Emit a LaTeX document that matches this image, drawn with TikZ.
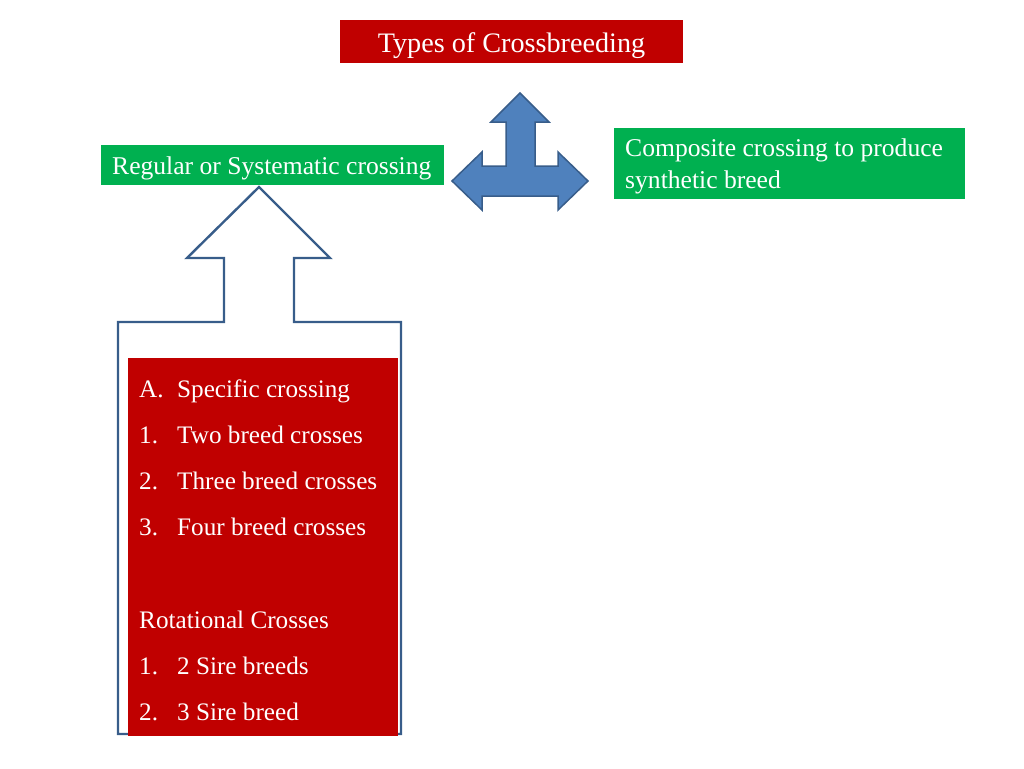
\documentclass[tikz,border=0pt]{standalone}
\usepackage{fontspec}
\setmainfont{Liberation Serif}
\usepackage{tikz}

\begin{document}
\begin{tikzpicture}
		[x=1pt,y=-1pt,line join=miter,
		%Styles
		box/.style={rectangle,inner sep=0pt,draw=none},
		title box/.style={box,fill=titlered},
		green box/.style={box,fill=boxgreen},
		panel/.style={box,fill=titlered},
		white text/.style={anchor=base west,inner sep=0pt,text=white,font=\fontsize{25.6}{30}\selectfont},
		list text/.style={white text,font=\fontsize{25.2}{30}\selectfont},
		block arrow/.style={fill=arrowblue,draw=arrowdark,line width=1.5pt},
		outline arrow/.style={draw=arrowdark,line width=2.4pt,fill=none}
		]
		
		%Colors
		\definecolor{titlered}{RGB}{192,0,0}
		\definecolor{boxgreen}{RGB}{0,176,80}
		\definecolor{arrowblue}{RGB}{79,129,189}
		\definecolor{arrowdark}{RGB}{56,93,138}
		
		\useasboundingbox (0,0) rectangle (1024,768);
		
		%The graphic
		\node[title box,minimum width=343pt,minimum height=43pt] (types) at (511.5,41.5) {};
		\node[white text,font=\fontsize{28.2}{32}\selectfont,anchor=base] (typestext) at (types.center |- 0,52.7) {Types of Crossbreeding};
		
		\node[green box,minimum width=343pt,minimum height=40pt] (regular) at (272.5,165) {};
		\node[white text] (regulartext) at (112,174.3) {Regular or Systematic crossing};
		
		\node[green box,minimum width=351pt,minimum height=71pt] (composite) at (789.5,163.5) {};
		\node[white text] (compositetext1) at (625,156.7) {Composite crossing to produce};
		\node[white text] (compositetext2) at (625,188.3) {synthetic breed};
		
		% three way arrow
		\draw[block arrow] (520,93) -- (549,122) -- (535,122) -- (535,166) -- (558,166) -- (558,152)
			-- (588,181) -- (558,210) -- (558,196) -- (482,196) -- (482,210) -- (452,181)
			-- (482,152) -- (482,166) -- (506,166) -- (506,122) -- (491,122) -- cycle;
		
		% up arrow round the list
		\draw[outline arrow] (259,187) -- (330,258) -- (294,258) -- (294,322) -- (401,322)
			-- (401,734) -- (118,734) -- (118,322) -- (224,322) -- (224,258) -- (187,258) -- cycle;
		
		\node[panel,minimum width=270pt,minimum height=378pt] (crosses) at (263,547) {};
		\node[list text] (1) at (139,397.3) {\makebox[38pt][l]{A.}Specific crossing};
		\node[list text] (2) at (139,443.3) {\makebox[38pt][l]{1.}Two breed crosses};
		\node[list text] (3) at (139,489.3) {\makebox[38pt][l]{2.}Three breed crosses};
		\node[list text] (4) at (139,535.3) {\makebox[38pt][l]{3.}Four breed crosses};
		\node[list text] (5) at (139,628.3) {Rotational Crosses};
		\node[list text] (6) at (139,674.3) {\makebox[38pt][l]{1.}2 Sire breeds};
		\node[list text] (7) at (139,720.3) {\makebox[38pt][l]{2.}3 Sire breed};
	\end{tikzpicture}
\end{document}
